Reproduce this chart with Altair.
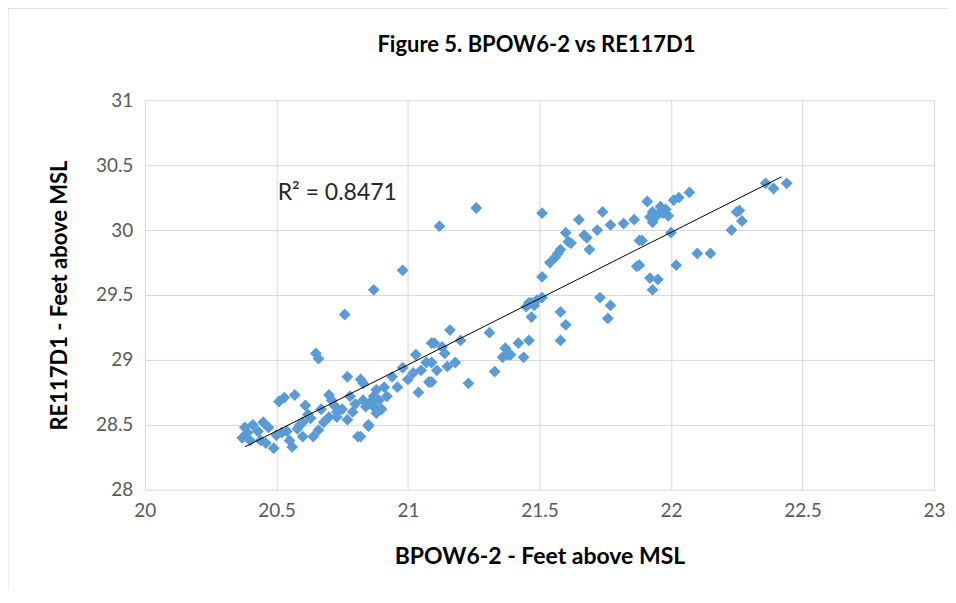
import altair as alt
import pandas as pd

# BPOW6-2 (x) vs RE117D1 (y), feet above MSL
bpow = [
    20.65, 20.66, 20.51, 20.53, 20.57, 20.61, 20.70, 20.38, 20.41, 20.45,
    20.47, 20.37, 20.40, 20.44, 20.46, 20.49, 20.55, 20.56, 20.60, 20.60,
    20.63, 20.66, 20.68, 20.70, 20.73, 20.64, 20.39, 20.43, 20.52, 20.58,
    21.09, 21.03, 21.07, 20.98, 21.02, 21.08, 21.04, 20.94, 20.96, 20.91,
    20.88, 20.92, 20.89, 20.87, 20.90, 20.83, 20.83, 20.82, 20.77, 20.84,
    20.85, 20.82, 20.78, 20.75, 20.77, 20.73, 20.71, 20.87, 20.88, 20.80,
    21.46, 21.45, 21.47, 21.16, 21.31, 21.20, 21.10, 21.13, 21.14, 21.09,
    21.11, 21.15, 21.18, 21.09, 21.23, 21.33, 21.37, 21.38, 21.36, 21.39,
    21.42, 21.44, 21.46, 21.00, 21.05,
    21.51, 21.65, 21.74, 21.77, 21.72, 21.82, 21.86, 21.60, 21.61, 21.62,
    21.67, 21.68, 21.69, 21.58, 21.57, 21.56, 21.54, 21.51, 21.88, 21.87,
    21.49, 21.51, 21.47, 21.58, 21.60, 21.58, 21.73, 21.77, 21.76, 21.48,
    22.07, 22.01, 22.03, 21.91, 21.96, 21.93, 21.92, 21.94, 21.93, 21.97,
    21.89, 22.00, 22.23, 22.25, 21.88, 22.02, 22.10, 22.15, 21.92, 21.95,
    21.93, 22.36, 22.39, 22.44, 22.26, 22.27, 21.95, 21.98, 21.99,
    21.26, 21.12, 20.98, 20.87, 20.76, 20.81, 20.85,
    20.54, 20.59, 20.62, 20.67, 20.72, 20.50, 20.79, 20.86,
]
re117 = [
    29.05, 29.01, 28.68, 28.71, 28.73, 28.65, 28.73, 28.48, 28.50, 28.52,
    28.48, 28.40, 28.38, 28.38, 28.36, 28.32, 28.38, 28.33, 28.41, 28.52,
    28.55, 28.46, 28.52, 28.56, 28.60, 28.41, 28.44, 28.45, 28.44, 28.47,
    29.13, 29.04, 28.98, 28.94, 28.90, 28.83, 28.75, 28.87, 28.79, 28.79,
    28.77, 28.72, 28.69, 28.64, 28.62, 28.69, 28.82, 28.85, 28.87, 28.64,
    28.50, 28.41, 28.72, 28.62, 28.54, 28.56, 28.69, 28.72, 28.59, 28.66,
    29.44, 29.41, 29.33, 29.23, 29.21, 29.15, 29.13, 29.10, 29.05, 28.98,
    28.92, 28.95, 28.98, 28.83, 28.82, 28.91, 29.09, 29.04, 29.02, 29.04,
    29.13, 29.02, 29.15, 28.85, 28.92,
    30.13, 30.08, 30.14, 30.04, 30.00, 30.05, 30.08, 29.98, 29.91, 29.90,
    29.96, 29.94, 29.85, 29.85, 29.82, 29.79, 29.75, 29.64, 29.92, 29.72,
    29.46, 29.48, 29.44, 29.37, 29.27, 29.15, 29.48, 29.42, 29.32, 29.42,
    30.29, 30.23, 30.25, 30.22, 30.18, 30.14, 30.10, 30.10, 30.06, 30.13,
    29.92, 29.98, 30.00, 30.14, 29.73, 29.73, 29.82, 29.82, 29.63, 29.62,
    29.54, 30.36, 30.32, 30.36, 30.15, 30.07, 30.12, 30.16, 30.11,
    30.17, 30.03, 29.69, 29.54, 29.35, 28.41, 28.49,
    28.45, 28.50, 28.58, 28.62, 28.65, 28.42, 28.60, 28.68,
]

# Linear trendline endpoints
trend_x = [20.38, 22.42]
trend_y = [28.33, 30.41]
r2_label = "R\u00b2 = 0.8471"
chart_title = "Figure 5. BPOW6-2 vs RE117D1"

pts = pd.DataFrame({"x": bpow, "y": re117})
trend = pd.DataFrame({"x": trend_x, "y": trend_y})
ann = pd.DataFrame({"x": [20.505], "y": [30.285], "t": [r2_label]})

FONT = "Lato"
xs = alt.Scale(domain=[20, 23], nice=False, zero=False)
ys = alt.Scale(domain=[28, 31], nice=False, zero=False)

x_axis = alt.Axis(
    title="BPOW6-2 - Feet above MSL", format="~g",
    values=[20, 20.5, 21, 21.5, 22, 22.5, 23],
    grid=True, ticks=False, domain=False,
    labelFontSize=19, labelColor="#595959", labelFont=FONT, labelPadding=12,
    titleFontSize=23, titleFont=FONT, titleFontWeight="bold", titleColor="#000000",
    titlePadding=25, labelFlush=False,
)
y_axis = alt.Axis(
    title="RE117D1 - Feet above MSL", format="~g",
    values=[28, 28.5, 29, 29.5, 30, 30.5, 31],
    grid=True, ticks=False, domain=False,
    labelFontSize=19, labelColor="#595959", labelFont=FONT, labelPadding=12,
    titleFontSize=22, titleFont=FONT, titleFontWeight="bold", titleColor="#000000",
    titlePadding=24, labelFlush=False,
)

scatter = alt.Chart(pts).mark_point(
    shape="diamond", filled=True, color="#5b9bd5", size=140, opacity=1
).encode(
    x=alt.X("x:Q", scale=xs, axis=x_axis),
    y=alt.Y("y:Q", scale=ys, axis=y_axis),
)

line = alt.Chart(trend).mark_line(color="#000000", strokeWidth=1).encode(
    x=alt.X("x:Q", scale=xs), y=alt.Y("y:Q", scale=ys)
)

text = alt.Chart(ann).mark_text(
    align="left", baseline="middle", fontSize=23, font=FONT, color="#262626"
).encode(x=alt.X("x:Q", scale=xs), y=alt.Y("y:Q", scale=ys), text="t:N")

title = alt.Chart(pd.DataFrame({"t": [chart_title]})).mark_text(
    align="center", baseline="middle", fontSize=22, font=FONT,
    fontWeight="bold", color="#000000",
).encode(x=alt.value(392), y=alt.value(-55), text="t:N")

border = alt.Chart(pd.DataFrame({"a": [0]})).mark_rule(
    color="#d9d9d9", strokeWidth=1
).encode(x=alt.value(-137), y=alt.value(-92), y2=alt.value(500))
border_top = alt.Chart(pd.DataFrame({"a": [0]})).mark_rule(
    color="#d9d9d9", strokeWidth=1
).encode(x=alt.value(-137), x2=alt.value(810), y=alt.value(-92))

chart = alt.layer(border, border_top, scatter, line, text, title).properties(
    width=790, height=390,
    padding={"left": 137, "top": 92, "right": 14, "bottom": 100},
    autosize=alt.AutoSizeParams(type="none"),
).configure_axis(
    gridColor="#d9d9d9", gridWidth=1
).configure_view(stroke=None)

chart.save("out.html", embed_options={"renderer": "svg", "actions": False})
